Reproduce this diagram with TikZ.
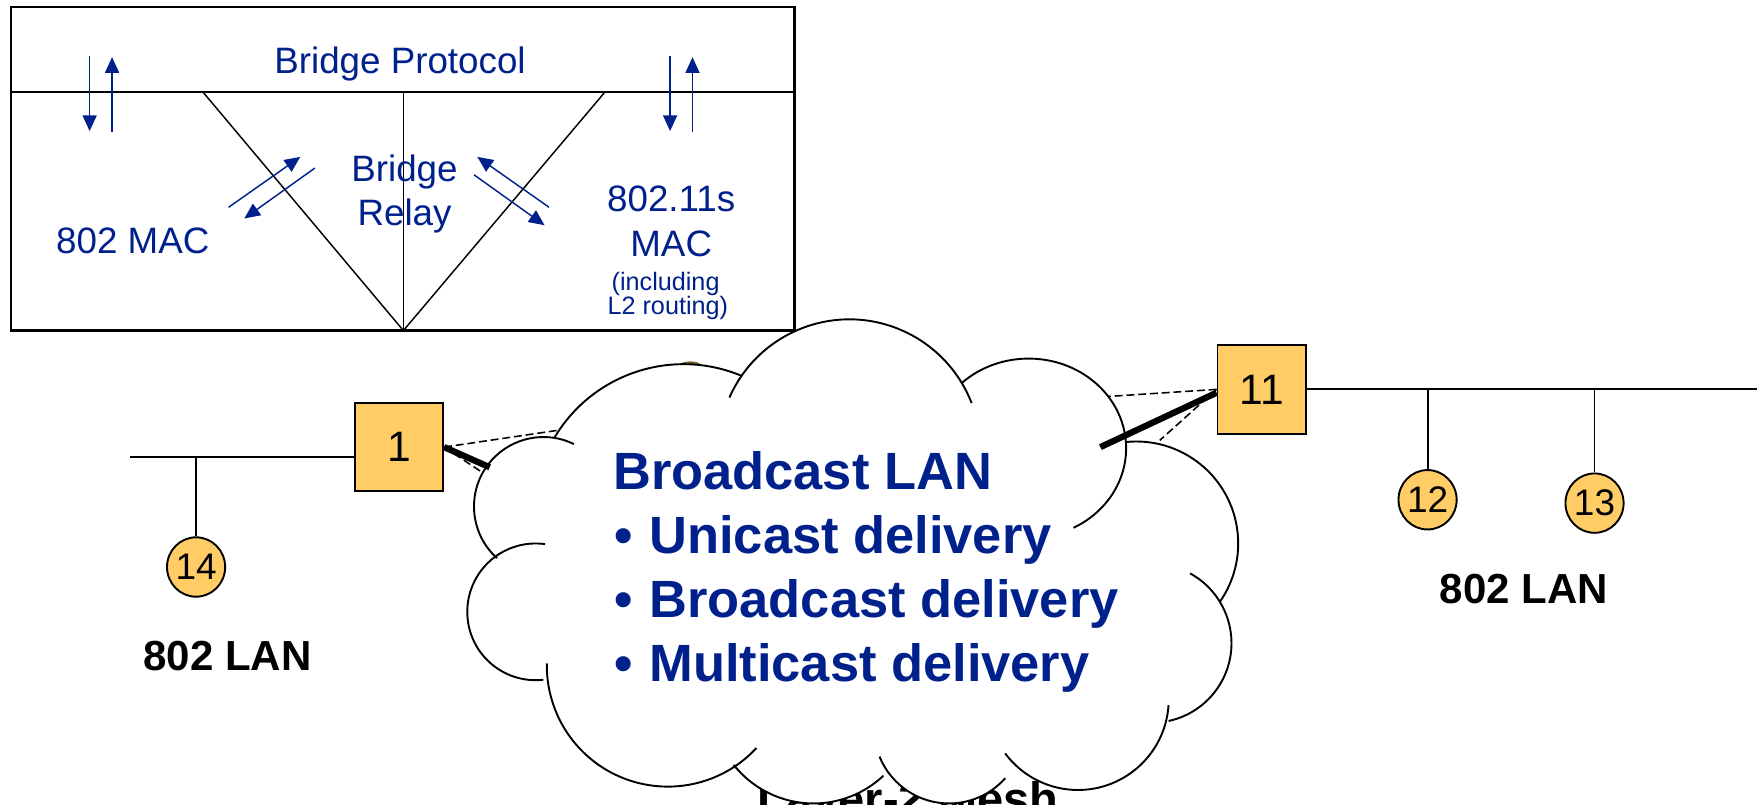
\documentclass[tikz,border=0pt]{standalone}
\usepackage{fontspec}
\setmainfont{Liberation Sans}
\usetikzlibrary{arrows.meta,shapes.geometric}
\definecolor{navy}{RGB}{0,32,140}
\definecolor{boxfill}{RGB}{255,204,102}
\definecolor{bump}{RGB}{125,95,55}
\newcommand\setfs[1]{\fontsize{#1}{#1}\selectfont}
\tikzset{
  labelblue/.style={text=navy, inner sep=0pt, anchor=base, font=\setfs{32.8}},
  smallblue/.style={text=navy, inner sep=0pt, anchor=base, font=\setfs{22.5}},
  layerline/.style={line width=1.3pt},
  navyarrow/.style={color=navy, line width=1.3pt, -{Triangle[length=14pt,width=12.5pt]}},
  bridgebox/.style={draw, line width=1.7pt, fill=boxfill, minimum width=79pt,
    minimum height=79pt, inner sep=0pt, font=\setfs{38}},
  station/.style={draw, ellipse, line width=1.7pt, fill=boxfill, minimum width=50pt,
    minimum height=53pt, inner sep=0pt, font=\setfs{33}},
  bus/.style={line width=1.7pt},
  uplink/.style={line width=5.6pt},
  radio/.style={line width=1.4pt, dash pattern=on 7pt off 3.5pt},
  lobe/.style={line width=1.7pt},
  lanlabel/.style={font=\bfseries\setfs{37.5}, inner sep=0pt, anchor=base},
  cloudtext/.style={text=navy, font=\bfseries\setfs{46.8}, inner sep=0pt, anchor=base west},
}
\begin{document}
\begin{tikzpicture}[x=1pt,y=-1pt]
\useasboundingbox (0,0) rectangle (1568,718);
\clip (0,0) rectangle (1568,718);

% ---------- bridge protocol stack ----------
\node[draw, line width=2pt, minimum width=699pt, minimum height=289pt, inner sep=0pt]
  (stack) at (359.5,150.5) {};
\coordinate (divL) at (10,82);
\coordinate (divR) at (709,82);
\draw[line width=2pt] (divL) -- (divR);
\coordinate (relayL) at (181,82);
\coordinate (relayC) at (360,82);
\coordinate (relayR) at (540,82);
\coordinate (relayB) at (360,295);
\draw[layerline] (relayL) -- (relayB) -- (relayR);
\draw[layerline] (relayC) -- (relayB);

\node[labelblue] (proto) at (357,66) {Bridge Protocol};
\node[labelblue] (relay1) at (361,162) {Bridge};
\node[labelblue] (relay2) at (361,201) {Relay};
\node[labelblue] (mac802) at (118.5,226) {802 MAC};
\node[labelblue] (mac11s) at (599,189) {802.11s};
\node[labelblue] (mac11sb) at (599,229) {MAC};
\node[smallblue] (incl1) at (594,259) {(including};
\node[smallblue] (incl2) at (596,281) {L2 routing)};

% service primitives
\coordinate (pdL1) at (80,50);   \coordinate (pdL2) at (80,117);
\coordinate (puL1) at (100,118); \coordinate (puL2) at (100,51);
\coordinate (pdR1) at (598,50);  \coordinate (pdR2) at (598,117);
\coordinate (puR1) at (618,118); \coordinate (puR2) at (618,51);
\draw[navyarrow] (pdL1) -- (pdL2);
\draw[navyarrow] (puL1) -- (puL2);
\draw[navyarrow] (pdR1) -- (pdR2);
\draw[navyarrow] (puR1) -- (puR2);
\coordinate (mA1) at (204,185); \coordinate (mA2) at (268,140);
\coordinate (mB1) at (281,150); \coordinate (mB2) at (218,195);
\coordinate (sA1) at (490,185); \coordinate (sA2) at (426,140);
\coordinate (sB1) at (423,156); \coordinate (sB2) at (486,201);
\draw[navyarrow] (mA1) -- (mA2);
\draw[navyarrow] (mB1) -- (mB2);
\draw[navyarrow] (sA1) -- (sA2);
\draw[navyarrow] (sB1) -- (sB2);

% ---------- LANs and portals ----------
\node[bridgebox] (b1) at (356,399) {1};
\node[bridgebox] (b11) at (1126,347.5) {11};
\node[station] (s14) at (175,506) {14};
\node[station] (s12) at (1274,446) {12};
\node[station] (s13) at (1423,449) {13};

\coordinate (busL) at (116,408);
\draw[bus] (busL) -- (busL -| b1.west);
\draw[bus] (s14 |- busL) -- (s14);
\coordinate (busR) at (1568,347.5);
\draw[bus] (b11.east) -- (busR);
\draw[bus] (s12 |- busR) -- (s12);
\draw[bus] (s13 |- busR) -- (s13);

\node[lanlabel] (lanL) at (203,598) {802 LAN};
\node[lanlabel] (lanR) at (1360,539) {802 LAN};

% wireless links into the mesh
\coordinate (r1a) at (498,384);
\coordinate (r1b) at (431,422);
\coordinate (u1) at (437,417);
\coordinate (r11a) at (986,354);
\coordinate (r11b) at (1035,393);
\coordinate (u11) at (982,399);
\draw[radio] (b1.east) -- (r1a);
\draw[radio] (b1.east) -- (r1b);
\draw[radio] (b11.west) -- (r11a);
\draw[radio] (b11.west) -- (r11b);

\node[font=\bfseries\setfs{42}, anchor=base west, inner sep=0pt] (mesh) at (676,728) {Layer-2 Mesh};
\fill[bump] (616,325.5) ellipse[x radius=9, y radius=3];

% ---------- cloud ----------
\fill[white] (485,452) -- (610,459) -- (758,402) -- (918,400) -- (1014,485) -- (1028,574)
  -- (962,624) -- (847,650) -- (726,626) -- (596,594) -- (478,546) -- cycle;
\fill[white] (485,452) circle[radius=62];
\fill[white] (610,459) circle[radius=134];
\fill[white] (758,402) circle[radius=117];
\fill[white] (918,400) ellipse[x radius=87, y radius=80];
\fill[white] (1014,485) circle[radius=91];
\fill[white] (1028,574) circle[radius=71];
\fill[white] (962,624) circle[radius=81];
\fill[white] (847,650) circle[radius=67];
\fill[white] (726,626) circle[radius=91];
\fill[white] (596,594) circle[radius=108];
\fill[white] (478,546) circle[radius=61];

\draw[lobe] (485,452) ++(-228:62) arc[start angle=-228, end angle=-64, radius=62];
\draw[lobe] (610,459) ++(-149.4:134) arc[start angle=-149.4, end angle=-67, radius=134];
\draw[lobe] (758,402) ++(-156.2:117) arc[start angle=-156.2, end angle=-21.2, radius=117];
\draw[lobe] (918,400) ++(-133.5:87 and 80) arc[start angle=-133.5, end angle=62.6, x radius=87, y radius=80];
\draw[lobe] (1014,485) ++(-96.3:91) arc[start angle=-96.3, end angle=34.8, radius=91];
\draw[lobe] (1028,574) ++(-61.4:71) arc[start angle=-61.4, end angle=77.9, radius=71];
\draw[lobe] (962,624) ++(3.7:81) arc[start angle=3.7, end angle=143.4, radius=81];
\draw[lobe] (847,650) ++(41.6:67) arc[start angle=41.6, end angle=157.9, radius=67];
\draw[lobe] (726,626) ++(46.7:91) arc[start angle=46.7, end angle=141.5, radius=91];
\draw[lobe] (596,594) ++(42.9:108) arc[start angle=42.9, end angle=181, radius=108];
\draw[lobe] (478,546) ++(83.5:61) arc[start angle=83.5, end angle=277.9, radius=61];

\node[cloudtext] (cl0) at (547,437) {Broadcast LAN};
\node[cloudtext] (cl1) at (548,494) {\textbullet\hspace{15pt}Unicast delivery};
\node[cloudtext] (cl2) at (548,551) {\textbullet\hspace{15pt}Broadcast delivery};
\node[cloudtext] (cl3) at (548,608) {\textbullet\hspace{15pt}Multicast delivery};

% point-to-point uplinks drawn over the cloud edge
\draw[uplink] (b1.east) -- (u1);
\draw[uplink] ([yshift=-3pt]b11.west) -- (u11);
\end{tikzpicture}
\end{document}
